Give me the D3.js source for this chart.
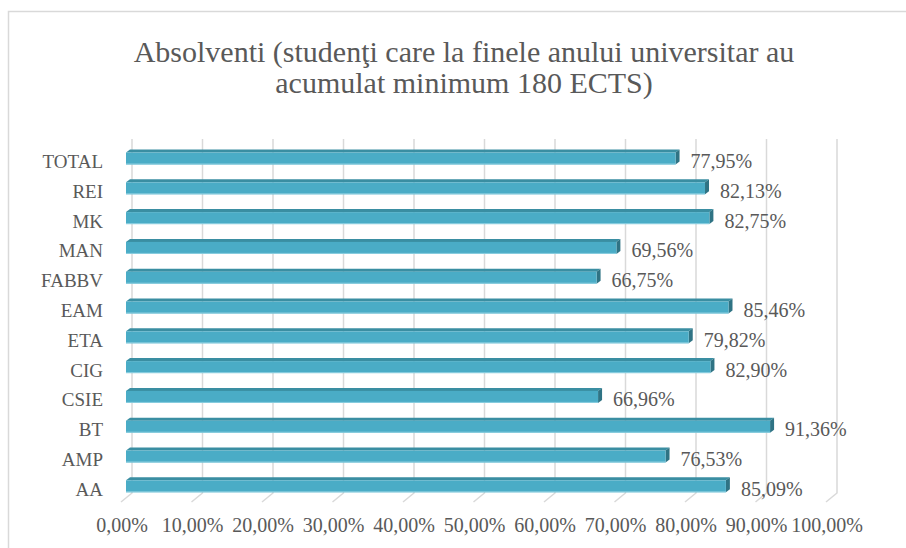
<!DOCTYPE html>
<html><head><meta charset="utf-8">
<script src="https://cdn.jsdelivr.net/npm/d3@7"></script>
<style>html,body{margin:0;padding:0;background:#fff;} svg{display:block;} text{font-family:"Liberation Serif","Times New Roman","DejaVu Serif",serif;}</style>
</head><body>
<svg id="c" width="906" height="548"></svg>
<script>
const titleLines = ["Absolventi (studenţi care la finele anului universitar au", "acumulat minimum 180 ECTS)"];
const categories = ["TOTAL","REI","MK","MAN","FABBV","EAM","ETA","CIG","CSIE","BT","AMP","AA"];
const values = [77.95,82.13,82.75,69.56,66.75,85.46,79.82,82.90,66.96,91.36,76.53,85.09];
const tickValues = [0,10,20,30,40,50,60,70,80,90,100];
const tickLabels = ["0,00%","10,00%","20,00%","30,00%","40,00%","50,00%","60,00%","70,00%","80,00%","90,00%","100,00%"];

const svg = d3.select("#c");
const textColor = "#595959";
const grid = "#d9d9d9";

// frame
svg.append("rect").attr("x",8.5).attr("y",11.5).attr("width",1000).attr("height",1000)
  .attr("fill","#fff").attr("stroke",grid).attr("stroke-width",1.5);

// title
svg.append("g").selectAll("text").data(titleLines).join("text")
  .attr("x",464).attr("y",(d,i)=>62+i*31).attr("text-anchor","middle")
  .style("font-size","30px").attr("fill",textColor).text(d=>d);

const x = d3.scaleLinear().domain([0,100]).range([132,837]);
const y = d3.scaleBand().domain(categories).range([142.6,500.2]).padding(0);

const floorBackY = 493, floorDx = -11, floorDy = 9, gridTop = 139;

// gridlines (back wall + floor)
svg.append("g").selectAll("path").data(tickValues).join("path")
  .attr("d",v=>`M${x(v)},${gridTop}V${floorBackY}l${floorDx},${floorDy}`)
  .attr("fill","none").attr("stroke",grid).attr("stroke-width",1.5);

// tick labels
svg.append("g").selectAll("text").data(tickValues).join("text")
  .attr("x",v=>x(v)-10).attr("y",532).attr("text-anchor","middle")
  .style("font-size","20px").attr("fill",textColor)
  .text((v,i)=>tickLabels[i]);

// bars (3D)
const offX = -6, dx = 4, dy = 3, frontTop = -5, frontBot = 7;
const bars = svg.append("g").selectAll("g").data(categories).join("g");
bars.each(function(c,i){
  const g = d3.select(this);
  const yc = y(c)+y.bandwidth()/2;
  const x0 = x(0)+offX, x1 = x(values[i])+offX;
  const t = yc+frontTop, b = yc+frontBot;
  g.append("path").attr("d",`M${x0},${t}L${x0+dx},${t-dy}L${x1+dx},${t-dy}L${x1},${t}Z`).attr("fill","#3a8ea2");
  g.append("path").attr("d",`M${x1},${t}L${x1+dx},${t-dy}L${x1+dx},${b-dy}L${x1},${b}Z`).attr("fill","#2f7384");
  g.append("rect").attr("x",x0).attr("y",t).attr("width",x1-x0).attr("height",b-t).attr("fill","#4aacc6");
  g.append("line").attr("x1",x0).attr("x2",x1).attr("y1",b-0.5).attr("y2",b-0.5).attr("stroke","#8ccfe0").attr("stroke-width",1);
  g.append("text").attr("x",x(values[i])+9).attr("y",yc+10.5)
    .style("font-size","20px").attr("fill",textColor)
    .text(values[i].toFixed(2).replace(".",",")+"%");
  g.append("text").attr("x",103).attr("y",yc+10.5).attr("text-anchor","end")
    .style("font-size","19px").attr("fill",textColor).text(c);
});
</script>
</body></html>
